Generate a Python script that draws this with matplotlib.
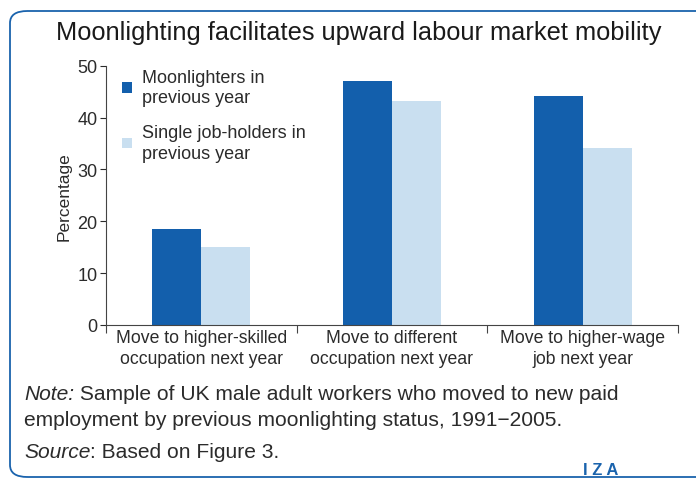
import matplotlib.pyplot as plt
from matplotlib.patches import FancyBboxPatch
import numpy as np

# data
categories = ["Move to higher-skilled\noccupation next year",
              "Move to different\noccupation next year",
              "Move to higher-wage\njob next year"]
moonlighters = [18.5, 47.0, 44.1]
single_job = [15.0, 43.2, 34.1]
series_names = ["Moonlighters in\nprevious year", "Single job-holders in\nprevious year"]
yticks = [0, 10, 20, 30, 40, 50]

dark = "#135fac"
light = "#c9dff0"
txt = "#2b2b2b"
plt.rcParams["font.family"] = ["Liberation Sans", "DejaVu Sans"]

fig = plt.figure(figsize=(6.96, 4.81), dpi=100)

# rounded frame, right side runs off the picture
frame = FancyBboxPatch((10 / 696, 3 / 481), 1.1, 1 - 15 / 481,
                       boxstyle="round,pad=0,rounding_size=0.025",
                       transform=fig.transFigure, fill=False,
                       edgecolor="#1a63ad", linewidth=1.3, clip_on=False)
fig.patches.append(frame)

ax = fig.add_axes([106 / 696, 1 - 326 / 481, (678 - 106) / 696, (326 - 66.7) / 481])

x = np.arange(len(categories))
w = 0.257
ax.bar(x - w / 2, moonlighters, w, color=dark, label=series_names[0])
ax.bar(x + w / 2, single_job, w, color=light, label=series_names[1])

ax.set_xlim(-0.5, 2.5)
ax.set_ylim(0, 50)
ax.set_yticks(yticks)
ax.tick_params(axis="y", labelsize=13, colors=txt, length=4, width=0.8, pad=2)
ax.set_xticks([-0.5, 0.5, 1.5, 2.5])
ax.set_xticklabels([])
ax.set_xticks(x, minor=True)
ax.set_xticklabels(categories, minor=True, fontsize=12.7, color=txt, linespacing=1.3)
ax.tick_params(axis="x", which="major", length=6, width=0.8, color="#444444")
ax.tick_params(axis="x", which="minor", length=0, pad=3)
for s in ["top", "right"]:
    ax.spines[s].set_visible(False)
for s in ["left", "bottom"]:
    ax.spines[s].set_color("#444444")
    ax.spines[s].set_linewidth(0.8)
ax.set_ylabel("Percentage", fontsize=12.5, color=txt, labelpad=4)

leg = ax.legend(loc="upper left", bbox_to_anchor=(0.0, 1.05), frameon=False,
                fontsize=13, handlelength=0.55, handleheight=0.55, handletextpad=0.55,
                labelspacing=1.0, labelcolor=txt)
for t in leg.get_texts():
    t.set_linespacing(1.25)

fig.text(359 / 696, 1 - 33 / 481, "Moonlighting facilitates upward labour market mobility",
         ha="center", va="center", fontsize=18.3, color="#1a1a1a")

# note and source lines: italic lead word, then plain text right after it
renderer = fig.canvas.get_renderer()
lines = [("Note:", " Sample of UK male adult workers who moved to new paid", 394),
         (None, "employment by previous moonlighting status, 1991\u22122005.", 420),
         ("Source", ": Based on Figure 3.", 453)]
for lead, rest, ypx in lines:
    x0 = 24 / 696
    if lead:
        t = fig.text(x0, 1 - ypx / 481, lead, fontsize=15.1, style="italic",
                     color=txt, va="center")
        bb = t.get_window_extent(renderer)
        x0 = bb.x1 / fig.bbox.width
    fig.text(x0, 1 - ypx / 481, rest, fontsize=15.1, color=txt, va="center")

fig.text(601 / 696, 1 - 471 / 481, "I Z A", fontsize=12, fontweight="bold",
         color="#1a63ad", ha="center", va="center")

fig.savefig("out.png", dpi=100)
